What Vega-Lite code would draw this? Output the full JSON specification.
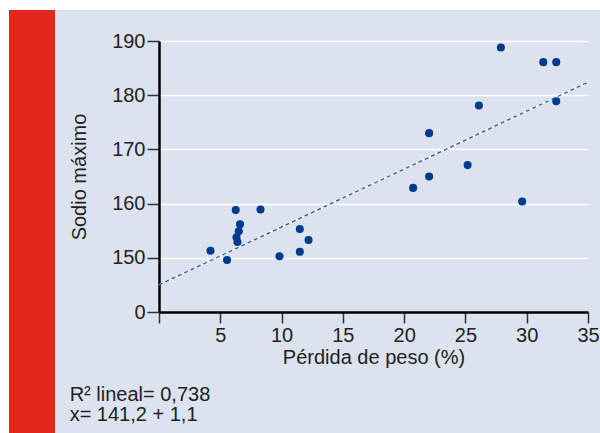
{
  "$schema": "https://vega.github.io/schema/vega-lite/v6.json",
  "background": "#dde3ee",
  "padding": 0,
  "spacing": 0,
  "bounds": "flush",
  "config": {
    "view": {"stroke": null},
    "font": "Liberation Sans"
  },
  "datasets": {
    "points": [
      {"perdida": 4.2, "sodio": 151.3},
      {"perdida": 5.55, "sodio": 149.6},
      {"perdida": 6.26, "sodio": 158.8},
      {"perdida": 6.61, "sodio": 156.2},
      {"perdida": 6.51, "sodio": 154.9},
      {"perdida": 6.32, "sodio": 153.8},
      {"perdida": 6.4, "sodio": 152.9},
      {"perdida": 8.28, "sodio": 158.9},
      {"perdida": 9.83, "sodio": 150.3},
      {"perdida": 11.49, "sodio": 155.3},
      {"perdida": 11.49, "sodio": 151.1},
      {"perdida": 12.2, "sodio": 153.3},
      {"perdida": 20.73, "sodio": 162.9},
      {"perdida": 22.04, "sodio": 173.0},
      {"perdida": 22.04, "sodio": 165.0},
      {"perdida": 25.18, "sodio": 167.1},
      {"perdida": 26.1, "sodio": 178.1},
      {"perdida": 27.89, "sodio": 188.8},
      {"perdida": 29.63, "sodio": 160.4},
      {"perdida": 31.35, "sodio": 186.1},
      {"perdida": 32.41, "sodio": 186.1},
      {"perdida": 32.41, "sodio": 178.9}
    ],
    "fit": [
      {"perdida": 0, "sodio": 145.0},
      {"perdida": 35, "sodio": 182.4}
    ]
  },
  "vconcat": [
    {
      "width": 600, "height": 10,
      "data": {"values": [{}]},
      "mark": {"type": "point", "opacity": 0},
      "view": {"fill": "#ffffff", "stroke": null}
    },
    {
      "spacing": 0,
      "bounds": "flush",
      "hconcat": [
        {
          "width": 9, "height": 423,
          "data": {"values": [{}]},
          "mark": {"type": "point", "opacity": 0},
          "view": {"fill": "#ffffff", "stroke": null}
        },
        {
          "width": 46, "height": 423,
          "data": {"values": [{}]},
          "mark": {"type": "point", "opacity": 0},
          "view": {"fill": "#e2261a", "stroke": null}
        },
        {
          "width": 104, "height": 423,
          "data": {"values": [{}]},
          "mark": {"type": "point", "opacity": 0},
          "view": {"stroke": null}
        },
        {
          "spacing": 0,
          "bounds": "flush",
          "vconcat": [
            {
              "width": 429, "height": 31,
              "data": {"values": [{}]},
              "mark": {"type": "point", "opacity": 0},
              "view": {"stroke": null}
            },
            {
              "width": 429,
              "height": 271,
              "title": {
                "text": ["R² lineal= 0,738", "x= 141,2 + 1,1"],
                "orient": "bottom",
                "anchor": "start",
                "frame": "bounds",
                "fontSize": 20,
                "fontWeight": "normal",
                "font": "Liberation Sans",
                "color": "#222222",
                "lineHeight": 20,
                "offset": 18
              },
              "layer": [
                {
                  "data": {"name": "fit"},
                  "mark": {"type": "line", "color": "#ffffff", "strokeWidth": 1.3},
                  "encoding": {
                    "x": {"field": "perdida", "type": "quantitative"},
                    "y": {"field": "sodio", "type": "quantitative"}
                  }
                },
                {
                  "data": {"name": "fit"},
                  "mark": {"type": "line", "color": "#2b5aa6", "strokeWidth": 1.3, "strokeDash": [4, 3]},
                  "encoding": {
                    "x": {"field": "perdida", "type": "quantitative"},
                    "y": {"field": "sodio", "type": "quantitative"}
                  }
                },
                {
                  "data": {"name": "points"},
                  "mark": {"type": "circle", "color": "#003a8c", "size": 65, "opacity": 1},
                  "encoding": {
                    "x": {
                      "field": "perdida", "type": "quantitative",
                      "scale": {"domain": [0, 35], "nice": false, "zero": false},
                      "axis": {
                        "title": "Pérdida de peso (%)",
                        "values": [0, 5, 10, 15, 20, 25, 30, 35],
                        "labelExpr": "datum.value == 0 ? '' : datum.label",
                        "grid": false,
                        "domainColor": "#000000",
                        "domainWidth": 2.5,
                        "tickColor": "#333333",
                        "tickWidth": 1.5,
                        "tickSize": 11,
                        "labelPadding": 2,
                        "labelFontSize": 20,
                        "labelColor": "#222222",
                        "labelFlush": false,
                        "labelOverlap": false,
                        "titleFontSize": 20,
                        "titleFontWeight": "normal",
                        "titleColor": "#222222",
                        "titlePadding": 2
                      }
                    },
                    "y": {
                      "field": "sodio", "type": "quantitative",
                      "scale": {"domain": [140, 190], "nice": false, "zero": false},
                      "axis": {
                        "title": "Sodio máximo",
                        "values": [140, 150, 160, 170, 180, 190],
                        "labelExpr": "datum.value == 140 ? '0' : datum.label",
                        "domainColor": "#000000",
                        "domainWidth": 2.5,
                        "grid": true,
                        "gridColor": "#ffffff",
                        "gridWidth": 1.5,
                        "tickColor": "#333333",
                        "tickWidth": 1.5,
                        "tickSize": 12,
                        "labelPadding": 2,
                        "labelFontSize": 20,
                        "labelColor": "#222222",
                        "labelFlush": false,
                        "labelOverlap": false,
                        "titleFontSize": 20,
                        "titleFontWeight": "normal",
                        "titleColor": "#222222",
                        "titlePadding": 22
                      }
                    }
                  }
                }
              ]
            }
          ]
        }
      ]
    }
  ]
}
